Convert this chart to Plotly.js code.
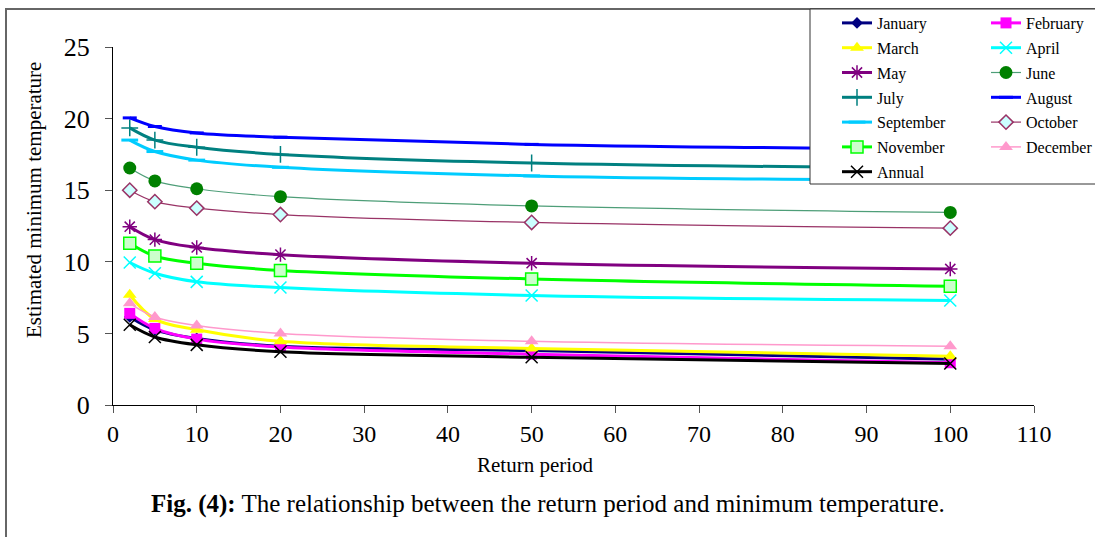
<!DOCTYPE html>
<html>
<head>
<meta charset="utf-8">
<script src="https://cdn.plot.ly/plotly-3.0.1.min.js"></script>
<style>html,body{margin:0;padding:0;background:#fff;}#chart{width:1095px;height:537px;}</style>
</head>
<body>
<div id="chart"></div>
<script>
// Return periods (years)
var returnPeriods = [2, 5, 10, 20, 50, 100];

// Estimated minimum temperature per series
var january   = [6.15, 5.25, 4.65, 4.10, 3.80, 3.20];
var february  = [6.40, 5.35, 4.60, 4.05, 3.55, 2.95];
var march     = [7.70, 6.00, 5.25, 4.45, 3.95, 3.40];
var april     = [9.95, 9.20, 8.60, 8.20, 7.65, 7.30];
var may       = [12.45, 11.55, 11.00, 10.50, 9.90, 9.50];
var june      = [16.55, 15.65, 15.10, 14.55, 13.90, 13.45];
var july      = [19.35, 18.50, 18.00, 17.50, 16.90, 16.55];
var august    = [20.05, 19.45, 19.00, 18.70, 18.20, 17.85];
var september = [18.50, 17.70, 17.10, 16.60, 16.00, 15.70];
var october   = [15.00, 14.20, 13.75, 13.30, 12.75, 12.35];
var november  = [11.30, 10.40, 9.90, 9.40, 8.80, 8.30];
var december  = [7.10, 6.15, 5.55, 5.00, 4.45, 4.10];
var annual    = [5.60, 4.75, 4.20, 3.72, 3.33, 2.90];

var xTickVals = [0, 10, 20, 30, 40, 50, 60, 70, 80, 90, 100, 110];
var yTickVals = [0, 5, 10, 15, 20, 25];

var SERIF = 'Liberation Serif, Times New Roman, serif';

function tr(name, y, lineColor, lineWidth, marker, legend) {
  return {
    type: 'scatter', mode: 'lines+markers', name: name,
    x: returnPeriods, y: y,
    line: {color: lineColor, width: lineWidth, shape: 'spline', smoothing: 1},
    marker: marker,
    legend: legend, legendgroup: name
  };
}

var traces = [
  tr('January', january, '#000080', 3, {symbol: 'diamond', size: 9, color: '#000080'}, 'legend'),
  tr('February', february, '#FF00FF', 3, {symbol: 'square', size: 11, color: '#FF00FF'}, 'legend2'),
  tr('March', march, '#FFFF00', 3, {symbol: 'triangle-up', size: 12, color: '#FFFF00'}, 'legend'),
  tr('April', april, '#00FFFF', 3, {symbol: 'x-thin-open', size: 12, line: {color: '#00FFFF', width: 1.5}, color: '#00FFFF'}, 'legend2'),
  tr('May', may, '#800080', 3, {symbol: 'asterisk-open', size: 12, line: {color: '#800080', width: 1.5}, color: '#800080'}, 'legend'),
  tr('June', june, '#4E9E78', 1.2, {symbol: 'circle', size: 13, color: '#008000'}, 'legend2'),
  tr('July', july, '#008080', 3, {symbol: 'cross-thin-open', size: 12, line: {color: '#008080', width: 1.5}, color: '#008080'}, 'legend'),
  tr('August', august, '#0000FF', 3, {symbol: 'line-ew-open', size: 10, line: {color: '#0000FF', width: 3}, color: '#0000FF'}, 'legend2'),
  tr('September', september, '#00CCFF', 3, {symbol: 'line-ew-open', size: 12, line: {color: '#00CCFF', width: 3}, color: '#00CCFF'}, 'legend'),
  tr('October', october, '#993366', 1.2, {symbol: 'diamond', size: 11, color: '#CCFFFF', line: {color: '#993366', width: 1.5}}, 'legend2'),
  tr('November', november, '#00FF00', 3, {symbol: 'square', size: 12, color: '#CCFFCC', line: {color: '#00FF00', width: 1.5}}, 'legend'),
  tr('December', december, '#FF99CC', 1.5, {symbol: 'triangle-up', size: 12, color: '#FF99CC'}, 'legend2'),
  tr('Annual', annual, '#000000', 3, {symbol: 'x-thin-open', size: 12, line: {color: '#000000', width: 1.5}, color: '#000000'}, 'legend')
];

var W = 1095, H = 537, L = 113, R = 61, T = 47, B = 132;
var pw = W - L - R, ph = H - T - B;
function px2x(p) { return (p - L) / pw; }
function py2y(p) { return (H - B - p) / ph; }

var layout = {
  width: W, height: H,
  margin: {l: L, r: R, t: T, b: B, pad: 0, autoexpand: false},
  paper_bgcolor: '#ffffff', plot_bgcolor: '#ffffff',
  showlegend: true,
  font: {family: SERIF, color: '#000'},
  xaxis: {
    range: [0, 110], tickvals: xTickVals, ticktext: xTickVals.map(String),
    showgrid: false, zeroline: false, showline: true, linecolor: '#000', linewidth: 1,
    ticks: 'outside', ticklen: 7, tickcolor: '#555', tickwidth: 1,
    tickfont: {family: SERIF, size: 24, color: '#000'}, ticklabelstandoff: 0,
    fixedrange: true
  },
  yaxis: {
    range: [0, 25], tickvals: yTickVals, ticktext: yTickVals.map(String),
    showgrid: false, zeroline: false, showline: true, linecolor: '#000', linewidth: 1,
    ticks: 'outside', ticklen: 7, tickcolor: '#555', tickwidth: 1,
    tickfont: {family: SERIF, size: 26, color: '#000'}, ticklabelstandoff: 10,
    fixedrange: true
  },
  legend: {
    x: px2x(837), y: py2y(6), xanchor: 'left', yanchor: 'top',
    bgcolor: 'rgba(0,0,0,0)', borderwidth: 0, tracegroupgap: 1,
    font: {family: SERIF, size: 16, color: '#000'}
  },
  legend2: {
    x: px2x(986), y: py2y(6), xanchor: 'left', yanchor: 'top',
    bgcolor: 'rgba(0,0,0,0)', borderwidth: 0, tracegroupgap: 1,
    font: {family: SERIF, size: 16, color: '#000'}
  },
  shapes: [
    {type: 'rect', xref: 'paper', yref: 'paper', layer: 'above',
     x0: px2x(6), x1: px2x(1200), y0: py2y(700), y1: py2y(9),
     line: {color: '#666', width: 2}, fillcolor: 'rgba(0,0,0,0)'},
    {type: 'rect', xref: 'paper', yref: 'paper', layer: 'above',
     x0: px2x(810), x1: px2x(1200), y0: py2y(184), y1: py2y(9),
     line: {color: '#333', width: 1}, fillcolor: '#ffffff'}
  ],
  annotations: [
    {xref: 'paper', yref: 'paper', x: px2x(535), y: py2y(465), xanchor: 'center', yanchor: 'middle',
     text: 'Return period', showarrow: false, font: {family: SERIF, size: 21, color: '#000'}},
    {xref: 'paper', yref: 'paper', x: px2x(34), y: py2y(200), xanchor: 'center', yanchor: 'middle',
     text: 'Estimated minimum temperature', textangle: -90, showarrow: false,
     font: {family: SERIF, size: 21, color: '#000'}},
    {xref: 'paper', yref: 'paper', x: px2x(548), y: py2y(504), xanchor: 'center', yanchor: 'middle',
     text: '<b>Fig. (4):</b> The relationship between the return period and minimum temperature.',
     showarrow: false, font: {family: SERIF, size: 25, color: '#000'}}
  ]
};

Plotly.newPlot('chart', traces, layout, {staticPlot: true, displayModeBar: false});
</script>
</body>
</html>
